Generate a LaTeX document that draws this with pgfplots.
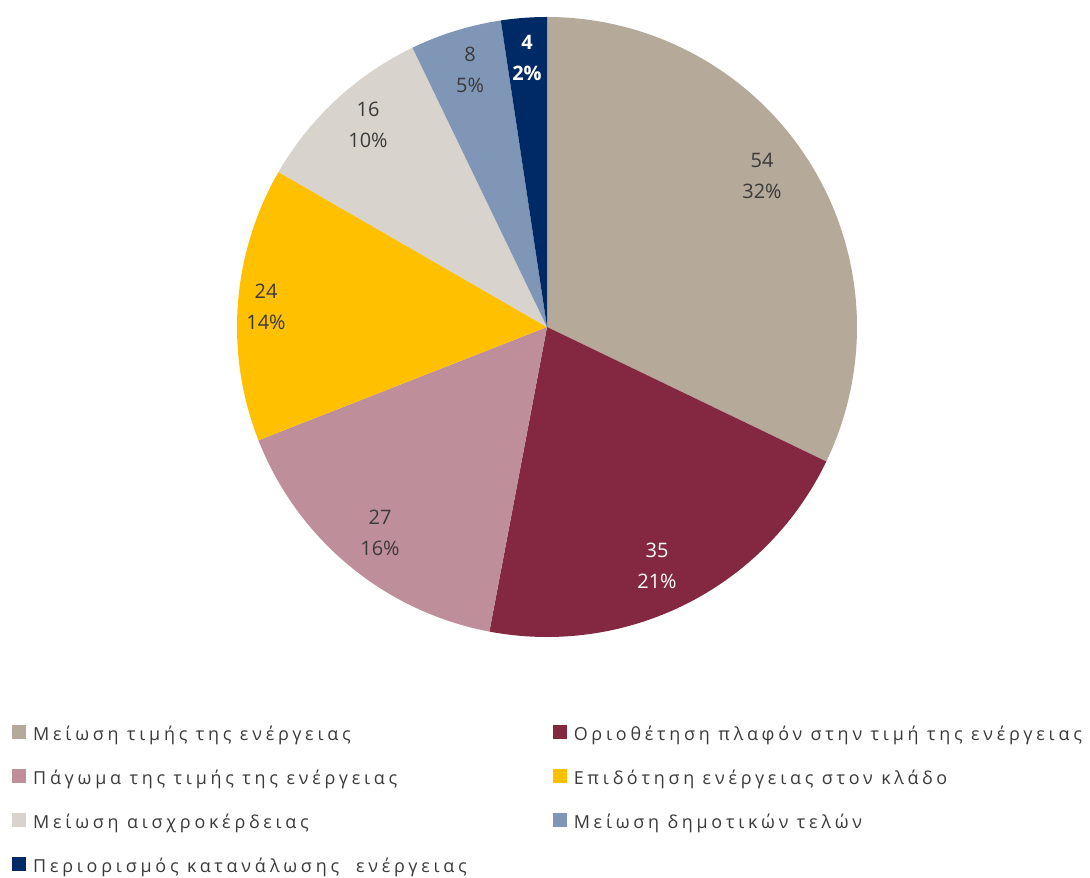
\documentclass[border=0pt]{standalone}
\usepackage{fontspec}
\setmainfont{Open Sans}
\newfontfamily\legfont[LetterSpace=21]{Open Sans}
\usepackage{pgfplots}
\pgfplotsset{compat=1.18}
\definecolor{c1}{HTML}{B5A999}
\definecolor{c2}{HTML}{832840}
\definecolor{c3}{HTML}{BE8F9B}
\definecolor{c4}{HTML}{FFC000}
\definecolor{c5}{HTML}{D9D3CD}
\definecolor{c6}{HTML}{8096B7}
\definecolor{c7}{HTML}{002A65}
\definecolor{lab}{HTML}{3A3A3A}
% values: 54, 35, 27, 24, 16, 8, 4 (total 168)
\pgfmathsetmacro\aA{90-(54)/168*360}
\pgfmathsetmacro\aB{90-(54+35)/168*360}
\pgfmathsetmacro\aC{90-(54+35+27)/168*360}
\pgfmathsetmacro\aD{90-(54+35+27+24)/168*360}
\pgfmathsetmacro\aE{90-(54+35+27+24+16)/168*360}
\pgfmathsetmacro\aF{90-(54+35+27+24+16+8)/168*360}
\pgfmathsetmacro\aG{90-(54+35+27+24+16+8+4)/168*360}
\begin{document}
\begin{tikzpicture}
\begin{axis}[
  width=1090bp, height=878bp, scale only axis,
  xmin=0, xmax=1090, ymin=0, ymax=878,
  hide axis, clip=false,
  legend columns=2,
  legend cell align=left,
  legend style={at={(axis description cs:0.011,0.175)}, anchor=north west,
    draw=none, fill=none, inner sep=0pt,
    font=\legfont\fontsize{18}{22}\selectfont, text=lab,
    column sep=7bp, row sep=23bp,
    nodes={inner sep=0pt, text height=13bp, text depth=5bp},
    /tikz/column 2/.style={column sep=86bp}},
  legend image code/.code={\fill[#1] (0bp,-2bp) rectangle (14bp,12bp);},
]
\addplot[draw=none, fill=c1, domain=\aA:90, samples=120, variable=\t] ({547+310*cos(\t)},{551+310*sin(\t)}) -- (axis cs:547,551) -- cycle;
\addlegendentry{Μείωση τιμής της ενέργειας}
\addplot[draw=none, fill=c2, domain=\aB:\aA, samples=100, variable=\t] ({547+310*cos(\t)},{551+310*sin(\t)}) -- (axis cs:547,551) -- cycle;
\addlegendentry{Οριοθέτηση πλαφόν στην τιμή της ενέργειας}
\addplot[draw=none, fill=c3, domain=\aC:\aB, samples=80, variable=\t] ({547+310*cos(\t)},{551+310*sin(\t)}) -- (axis cs:547,551) -- cycle;
\addlegendentry{Πάγωμα της τιμής της ενέργειας}
\addplot[draw=none, fill=c4, domain=\aD:\aC, samples=80, variable=\t] ({547+310*cos(\t)},{551+310*sin(\t)}) -- (axis cs:547,551) -- cycle;
\addlegendentry{Επιδότηση ενέργειας στον κλάδο}
\addplot[draw=none, fill=c5, domain=\aE:\aD, samples=60, variable=\t] ({547+310*cos(\t)},{551+310*sin(\t)}) -- (axis cs:547,551) -- cycle;
\addlegendentry{Μείωση αισχροκέρδειας}
\addplot[draw=none, fill=c6, domain=\aF:\aE, samples=40, variable=\t] ({547+310*cos(\t)},{551+310*sin(\t)}) -- (axis cs:547,551) -- cycle;
\addlegendentry{Μείωση δημοτικών τελών}
\addplot[draw=none, fill=c7, domain=\aG:\aF, samples=30, variable=\t] ({547+310*cos(\t)},{551+310*sin(\t)}) -- (axis cs:547,551) -- cycle;
\addlegendentry{Περιορισμός κατανάλωσης\ \ ενέργειας}
\begin{scope}[every node/.style={align=center, font=\fontsize{20}{31}\selectfont}]
\node[text=lab] at (axis cs:762,702) {54\\32\%};
\node[text=white] at (axis cs:657,312) {35\\21\%};
\node[text=lab] at (axis cs:380,345) {27\\16\%};
\node[text=lab] at (axis cs:266,571) {24\\14\%};
\node[text=lab] at (axis cs:368,753) {16\\10\%};
\node[text=lab] at (axis cs:470,808) {8\\5\%};
\node[text=white, font=\bfseries\fontsize{20}{31}\selectfont] at (axis cs:527,820) {4\\2\%};
\end{scope}
\path (axis cs:0,0) (axis cs:1090,878);
\end{axis}
\end{tikzpicture}
\end{document}
